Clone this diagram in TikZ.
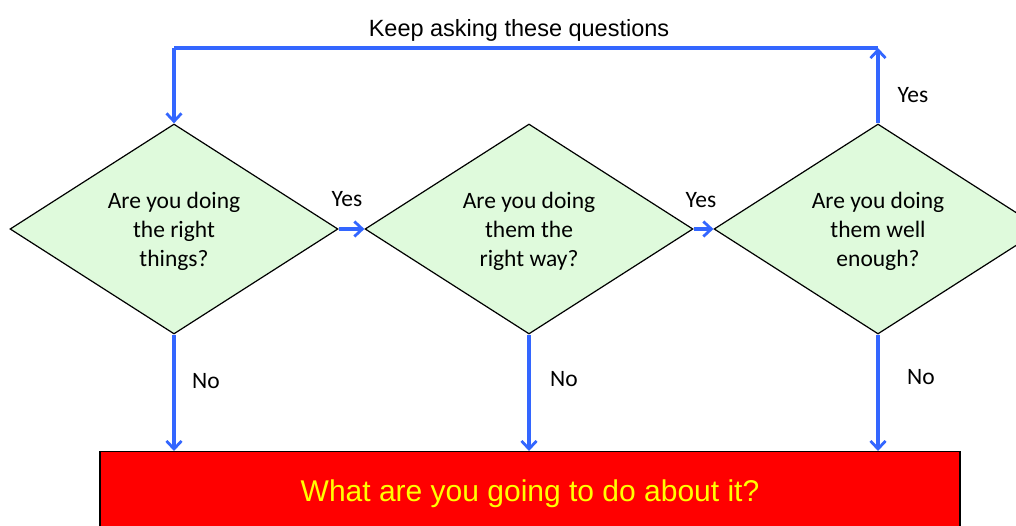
\documentclass[tikz,border=0pt]{standalone}
\usepackage{fontspec}
\setmainfont{Carlito}
\newfontfamily\arialfont{Liberation Sans}
\usetikzlibrary{shapes.geometric,arrows.meta}
\definecolor{flowblue}{RGB}{51,102,255}
\definecolor{qgreen}{RGB}{223,250,220}
\definecolor{boxred}{RGB}{255,0,0}
\definecolor{boxyellow}{RGB}{255,255,0}
\begin{document}
\begin{tikzpicture}[x=1pt,y=-1pt,
  question/.style={diamond,draw=black,line width=1.2pt,fill=qgreen,inner sep=0pt,
    minimum width=328pt,minimum height=210pt,aspect=1.5619,align=center,
    text depth=0pt,font=\fontsize{23.5}{29}\selectfont},
  flow/.style={draw=flowblue,line width=3.2pt,
    -{Straight Barb[length=8pt,width=15pt,line width=2.8pt]}},
  plain/.style={draw=flowblue,line width=3.2pt},
  lbl/.style={font=\fontsize{23.5}{27}\selectfont,inner sep=0pt}]
\useasboundingbox (0,0) rectangle (1016,525);
\clip (0,0) rectangle (1016,525);
\fill[white] (0,0) rectangle (1016,525);
\node[question] (d1) at (174,229) {Are you doing\\the right\\things?};
\node[question] (d2) at (529,229) {Are you doing\\them the\\right way?};
\node[question] (d3) at (878,229) {Are you doing\\them well\\enough?};
\node[draw=black,line width=1.2pt,fill=boxred,minimum width=860pt,minimum height=84pt,
  inner sep=0pt,anchor=north,text=boxyellow,font=\arialfont\fontsize{30}{34}\selectfont]
  (act) at (530,451) {What are you going to do about it?};
\coordinate (c3) at (878,48);
\coordinate (c1) at (174,48);
\draw[flow] (d1.east) -- (d2.west);
\draw[flow] (d2.east) -- (d3.west);
\draw[flow] (d1.south) -- (d1.south |- act.north);
\draw[flow] (d2.south) -- (d2.south |- act.north);
\draw[flow] (d3.south) -- (d3.south |- act.north);
\draw[flow] (d3.north) -- (c3);
\draw[plain] (c3) -- (c1);
\draw[flow] (c1) -- (d1.north);
\node[lbl] (y1) at (347,199) {Yes};
\node[lbl] (y2) at (701,200) {Yes};
\node[lbl] (y3) at (913,95) {Yes};
\node[lbl] (n1) at (206,381) {No};
\node[lbl] (n2) at (564,379) {No};
\node[lbl] (n3) at (921,377) {No};
\node[font=\arialfont\fontsize{23.5}{27}\selectfont,inner sep=0pt] (keep) at (519,30) {Keep asking these questions};
\end{tikzpicture}
\end{document}
